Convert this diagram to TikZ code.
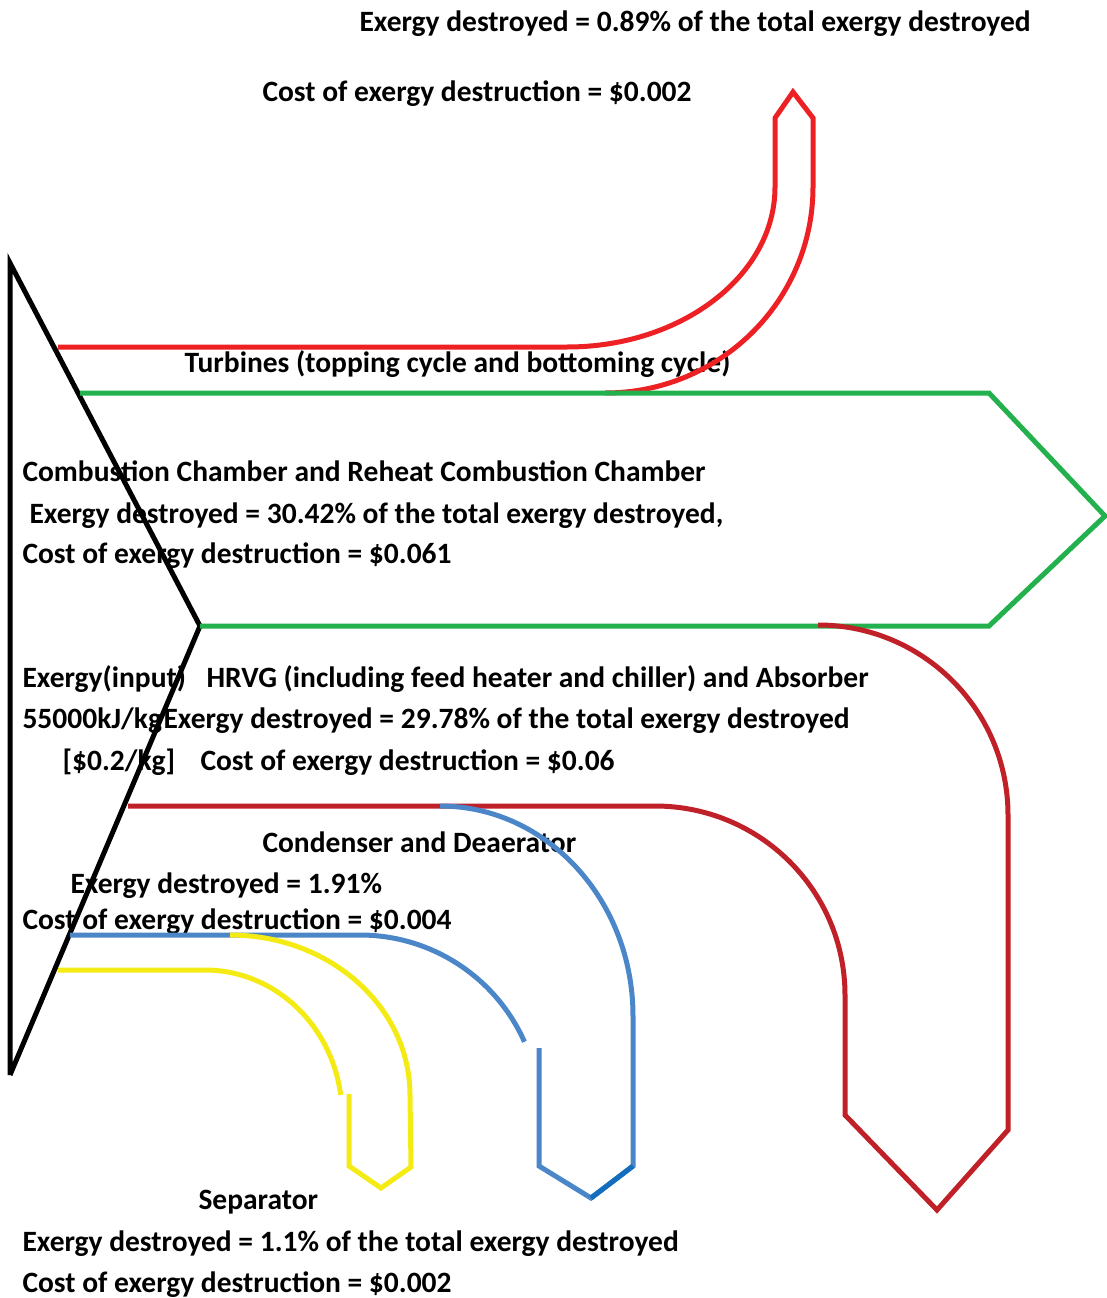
\documentclass[tikz,border=0pt]{standalone}
\usepackage{fontspec}
\setmainfont{Carlito}
\definecolor{turbred}{RGB}{237,32,36}
\definecolor{combgreen}{RGB}{34,177,76}
\definecolor{hrvgred}{RGB}{192,32,40}
\definecolor{condblue}{RGB}{74,134,200}
\definecolor{tipblue}{RGB}{20,110,190}
\definecolor{sepyellow}{RGB}{245,235,20}

\begin{document}
\begin{tikzpicture}[x=1pt, y=-1pt, line width=5pt,
    every node/.style={font=\bfseries\fontsize{29.5}{35}\selectfont,
      anchor=base west, inner sep=0pt}]
  \useasboundingbox (0,0) rectangle (1106,1298);

  %% ---------- labels ----------
  \node (turbex)   at (357,32)   {Exergy destroyed = 0.89\% of the total exergy destroyed};
  \node (turbcost) at (260,101)  {Cost of exergy destruction = \$0.002};
  \node (turb)     at (182,372)  {Turbines (topping cycle and bottoming cycle)};
  \node (comb)     at (20,481)   {Combustion Chamber and Reheat Combustion Chamber};
  \node (combex)   at (27,523)   {Exergy destroyed = 30.42\% of the total exergy destroyed,};
  \node (combcost) at (20,563)   {Cost of exergy destruction = \$0.061};
  \node (inp)      at (20,687)   {Exergy(input)};
  \node (inpval)   at (20,728)   {55000kJ/kg};
  \node (inpcost)  at (60,770)   {[\$0.2/kg]};
  \node (hrvg)     at (204,687)  {HRVG (including feed heater and chiller) and Absorber};
  \node (hrvgex)   at (161,728)  {Exergy destroyed = 29.78\% of the total exergy destroyed};
  \node (hrvgcost) at (198,770)  {Cost of exergy destruction = \$0.06};
  \node (cond)     at (260,852)  {Condenser and Deaerator};
  \node (condex)   at (68,893)   {Exergy destroyed = 1.91\%};
  \node (condcost) at (20,929)   {Cost of exergy destruction = \$0.004};
  \node (sep)      at (196,1209) {Separator};
  \node (sepex)    at (20,1251)  {Exergy destroyed = 1.1\% of the total exergy destroyed};
  \node (sepcost)  at (20,1292)  {Cost of exergy destruction = \$0.002};

  %% ---------- input wedge ----------
  \draw[black] (10,1075) -- (10,263) -- (200,626) -- (10,1075);

  %% ---------- turbines (up) ----------
  \draw[turbred] (58,347) -- (567,347)
    arc[start angle=90, end angle=0, x radius=208, y radius=160]
    -- (775,118) -- (793,92) -- (813,118) -- (813,187)
    arc[start angle=0, end angle=90, x radius=208, y radius=206];

  %% ---------- combustion chambers (right) ----------
  \draw[combgreen] (80,393) -- (989,393) -- (1105,516) -- (989,626) -- (200,626);

  %% ---------- HRVG and absorber ----------
  \draw[hrvgred] (128,806) -- (655,806)
    arc[start angle=-90, end angle=0, x radius=190, y radius=189]
    -- (845,1115) -- (937,1210) -- (1008,1130) -- (1008,815)
    arc[start angle=0, end angle=-90, radius=190];

  %% ---------- condenser and deaerator ----------
  \draw[condblue] (70,935) -- (360,935)
    arc[start angle=-90, end angle=-24, radius=180];
  \draw[condblue] (539,1048) -- (539,1166) -- (591,1198) -- (633,1166) -- (633,1016)
    arc[start angle=0, end angle=-90, x radius=193, y radius=210];
  \draw[tipblue] (591,1198) -- (633,1166);

  %% ---------- separator ----------
  \draw[sepyellow] (58,970) -- (205,970)
    arc[start angle=-90, end angle=-8, x radius=137, y radius=145];
  \draw[sepyellow] (230,935)
    arc[start angle=-90, end angle=0, x radius=180, y radius=160]
    -- (411,1167) -- (381,1188) -- (349,1166) -- (349,1094);
\end{tikzpicture}
\end{document}
